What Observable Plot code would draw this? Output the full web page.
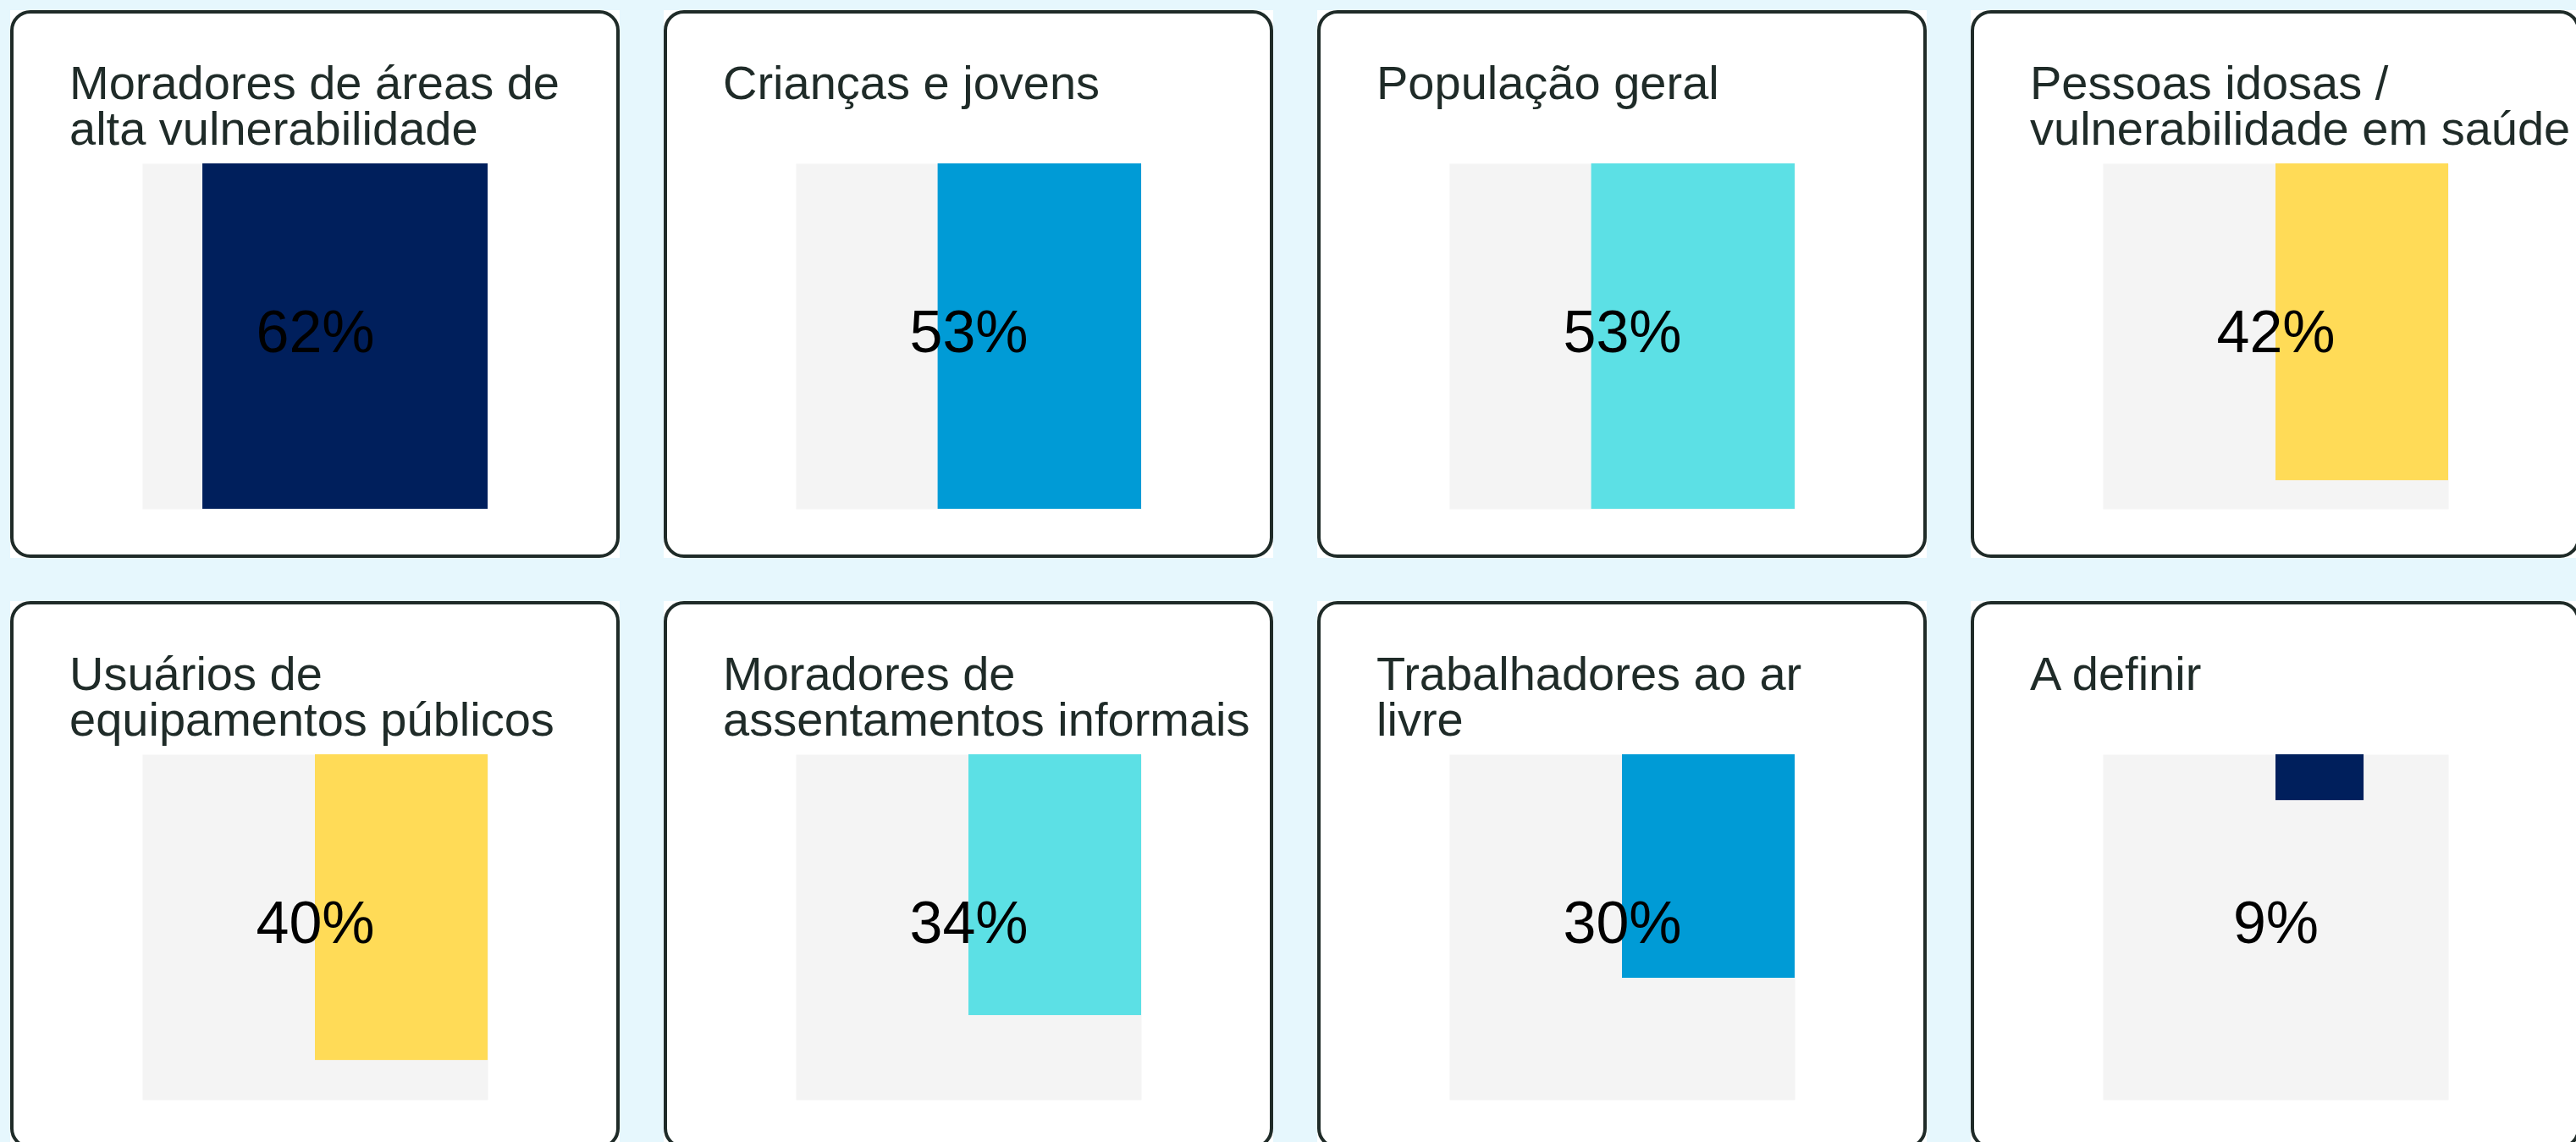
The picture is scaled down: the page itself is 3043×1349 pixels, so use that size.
<!DOCTYPE html>
<html>
<head>
<meta charset="utf-8">
<script src="https://cdn.jsdelivr.net/npm/d3@7"></script>
<script src="https://cdn.jsdelivr.net/npm/@observablehq/plot@0.6"></script>
<style>
html, body { margin: 0; padding: 0; overflow: hidden; background: #e6f7fd; width: 3043px; height: 1349px; }
#wrap { position: relative; width: 3100px; height: 1420px; }
.card { position: absolute; width: 720px; height: 647px; background: #fff; }
.card .bd { position: absolute; left: 0; top: 0; width: 720px; height: 647px; box-sizing: border-box;
  border: 4px solid #1f2b28; border-radius: 24px; z-index: 3; pointer-events: none; }
.card svg { position: absolute; left: 0; top: 0; }
.card .t { position: absolute; left: 70px; top: 59px; font: 56px/54px "Liberation Sans", Arial, sans-serif;
  color: #1f2b28; white-space: pre; z-index: 2; }
</style>
</head>
<body>
<div id="wrap"></div>
<script>
// ---- data ----
const titles = [
  "Moradores de áreas de\nalta vulnerabilidade",
  "Crianças e jovens",
  "População geral",
  "Pessoas idosas /\nvulnerabilidade em saúde",
  "Usuários de\nequipamentos públicos",
  "Moradores de\nassentamentos informais",
  "Trabalhadores ao ar\nlivre",
  "A definir"
];
const values = [62, 53, 53, 42, 40, 34, 30, 9];
const colors = ["#001f5c", "#009bd6", "#5ce0e5", "#ffdb57", "#ffdb57", "#5ce0e5", "#009bd6", "#001f5c"];

// bounding box of an arc (ring sector) starting at 12 o'clock, sweeping clockwise
function arcBox(v) {
  const t = 2 * Math.PI * v / 100;
  const ri = 0.87, k = 0.952; // inner radius, rounded-end shrink
  const pts = [[0, 1], [0, ri], [k * Math.sin(t), k * Math.cos(t)], [ri * Math.sin(t), ri * Math.cos(t)]];
  for (const a of [Math.PI / 2, Math.PI, 1.5 * Math.PI]) if (a < t) pts.push([Math.sin(a), Math.cos(a)]);
  return {
    x1: d3.min(pts, p => p[0]), x2: d3.max(pts, p => p[0]),
    y1: d3.min(pts, p => p[1]), y2: d3.max(pts, p => p[1])
  };
}

const wrap = document.getElementById("wrap");
titles.forEach((title, i) => {
  const col = i % 4, row = Math.floor(i / 4);
  const card = document.createElement("div");
  card.className = "card";
  card.style.left = (12 + col * 772) + "px";
  card.style.top = (12 + row * 698) + "px";

  const chart = Plot.plot({
    width: 720, height: 647,
    marginLeft: 156, marginRight: 156, marginTop: 181, marginBottom: 58,
    x: { domain: [-1, 1], axis: null },
    y: { domain: [-1, 1], axis: null },
    style: { fontFamily: "'Liberation Sans', Arial, sans-serif", background: "transparent", overflow: "visible" },
    marks: [
      Plot.frame({ fill: "#f4f4f4", stroke: "none" }),
      Plot.rect([arcBox(values[i])], { x1: "x1", x2: "x2", y1: "y1", y2: "y2", fill: colors[i] }),
      Plot.text([values[i]], { text: d => `${d}%`, frameAnchor: "middle", fontSize: 70, fill: "#000", dy: -4 })
    ]
  });
  card.appendChild(chart);

  const t = document.createElement("div");
  t.className = "t";
  t.textContent = title;
  card.appendChild(t);

  const bd = document.createElement("div");
  bd.className = "bd";
  card.appendChild(bd);

  wrap.appendChild(card);
});
</script>
</body>
</html>
